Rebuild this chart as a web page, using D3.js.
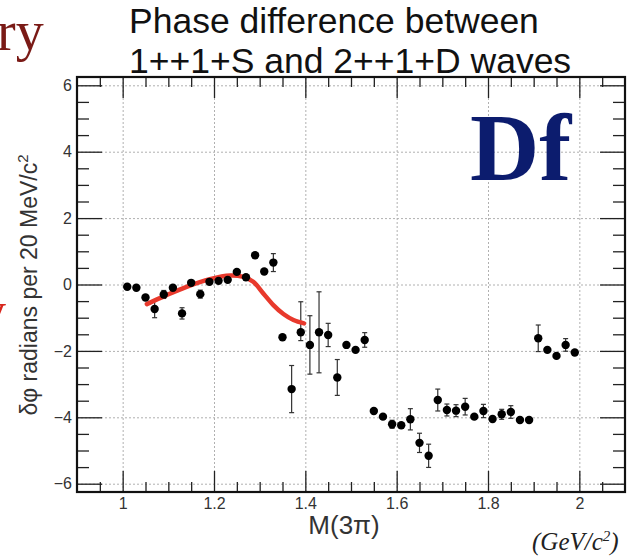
<!DOCTYPE html>
<html>
 <head>
  <meta charset="UTF-8">
  <title>Phase difference</title>
  <style>
    body { margin: 0; background: #fff; }
    text { font-family: "Liberation Sans", Arial, sans-serif; }
  </style>
 </head>
 <body>
<div id="viz-wrapper"></div>
 <script src="https://cdn.jsdelivr.net/npm/d3@7"></script>
 <script type="text/javascript">
    // mass bins (GeV/c^2) and measured phase difference (rad)
    var mass = [1.01, 1.03, 1.05, 1.07, 1.09, 1.11, 1.13, 1.15, 1.17, 1.19,
                1.21, 1.23, 1.25, 1.27, 1.29, 1.31, 1.33, 1.35, 1.37, 1.39,
                1.41, 1.43, 1.45, 1.47, 1.49, 1.51, 1.53, 1.55, 1.57, 1.59,
                1.61, 1.63, 1.65, 1.67, 1.69, 1.71, 1.73, 1.75, 1.77, 1.79,
                1.81, 1.83, 1.85, 1.87, 1.89, 1.91, 1.93, 1.95, 1.97, 1.99];
    var phase = [-0.07, -0.10, -0.39, -0.74, -0.30, -0.10, -0.87, 0.05, -0.29, 0.08,
                 0.11, 0.14, 0.38, 0.22, 0.88, 0.39, 0.66, -1.59, -3.15, -1.44,
                 -1.82, -1.44, -1.52, -2.80, -1.82, -1.97, -1.67, -3.81, -3.98, -4.21,
                 -4.24, -4.06, -4.77, -5.16, -3.48, -3.78, -3.80, -3.68, -3.98, -3.81,
                 -4.05, -3.91, -3.84, -4.08, -4.08, -1.62, -1.97, -2.15, -1.82, -2.05];
    var errUp = [0.05, 0.05, 0.08, 0.26, 0.12, 0.05, 0.17, 0.05, 0.12, 0.05,
                 0.05, 0.05, 0.05, 0.05, 0.05, 0.05, 0.27, 0.05, 0.71, 0.92,
                 0.88, 1.22, 0.35, 0.54, 0.10, 0.08, 0.22, 0.05, 0.05, 0.12,
                 0.08, 0.32, 0.29, 0.35, 0.33, 0.18, 0.18, 0.25, 0.08, 0.20,
                 0.08, 0.15, 0.19, 0.05, 0.05, 0.40, 0.08, 0.10, 0.19, 0.08];
    var errDown = [0.05, 0.05, 0.08, 0.26, 0.12, 0.05, 0.17, 0.05, 0.12, 0.05,
                   0.05, 0.05, 0.05, 0.05, 0.05, 0.05, 0.27, 0.05, 0.71, 0.25,
                   0.88, 1.22, 0.35, 0.54, 0.10, 0.08, 0.22, 0.05, 0.05, 0.12,
                   0.08, 0.32, 0.29, 0.35, 0.33, 0.18, 0.18, 0.25, 0.08, 0.20,
                   0.08, 0.15, 0.19, 0.05, 0.05, 0.40, 0.08, 0.10, 0.19, 0.08];

    // fit curve (red)
    var fitMass  = [1.053, 1.096, 1.14, 1.191, 1.235, 1.264, 1.286, 1.308, 1.33, 1.352, 1.374, 1.397];
    var fitPhase = [-0.59, -0.32, -0.07, 0.16, 0.27, 0.23, 0.08, -0.27, -0.62, -0.89, -1.07, -1.17];

    // ticks
    var xMajor = [1.0, 1.2, 1.4, 1.6, 1.8, 2.0];
    var xLabels = ["1", "1.2", "1.4", "1.6", "1.8", "2"];
    var xMinor = [0.95, 1.05, 1.1, 1.15, 1.25, 1.3, 1.35, 1.45, 1.5, 1.55, 1.65, 1.7, 1.75,
                  1.85, 1.9, 1.95, 2.05];
    var yMajor = [-6, -4, -2, 0, 2, 4, 6];
    var yMinor = [-5.5, -5, -4.5, -3.5, -3, -2.5, -1.5, -1, -0.5, 0.5, 1, 1.5,
                  2.5, 3, 3.5, 4.5, 5, 5.5];

    var width = 633, height = 559;
    var pLeft = 77, pRight = 625, pTop = 77, pBottom = 492;

    var viz = d3.select("#viz-wrapper")
                .append("svg")
                .attr("width", width)
                .attr("height", height);

    viz.append("rect").attr("width", width).attr("height", height).attr("fill", "#fff");

    var x = d3.scaleLinear().domain([0.9, 2.1]).range([pLeft, pRight]);
    var y = d3.scaleLinear().domain([-6.25, 6.25]).range([pBottom, pTop]);

    //grid
    var gx = viz.append("g").attr("transform", "translate(0," + pBottom + ")")
                .call(d3.axisBottom(x).tickValues(xMajor).tickSize(-(pBottom - pTop)).tickFormat(""));
    var gy = viz.append("g").attr("transform", "translate(" + pLeft + ",0)")
                .call(d3.axisLeft(y).tickValues(yMajor).tickSize(-(pRight - pLeft)).tickFormat(""));
    [gx, gy].forEach(function(g) {
        g.select(".domain").remove();
        g.selectAll("line").attr("stroke", "#b0b0b0").attr("stroke-dasharray", "2,2");
    });

    // axes, ticks pointing inside the frame
    function styleAxis(g) {
        g.select(".domain").remove();
        g.attr("font-size", 16);
        g.selectAll("line").attr("stroke", "#222").attr("stroke-width", 1.3);
        g.selectAll("text").attr("fill", "#333");
    }
    var fmt = function(d) { return xLabels[xMajor.indexOf(d)]; };

    viz.append("g").attr("transform", "translate(0," + pBottom + ")")
       .call(d3.axisBottom(x).tickValues(xMajor).tickSize(-21).tickPadding(6).tickFormat(fmt))
       .call(styleAxis);
    viz.append("g").attr("transform", "translate(0," + pBottom + ")")
       .call(d3.axisBottom(x).tickValues(xMinor).tickSize(-10).tickFormat(""))
       .call(styleAxis);
    viz.append("g").attr("transform", "translate(0," + pTop + ")")
       .call(d3.axisTop(x).tickValues(xMajor).tickSize(-21).tickFormat(""))
       .call(styleAxis);
    viz.append("g").attr("transform", "translate(0," + pTop + ")")
       .call(d3.axisTop(x).tickValues(xMinor).tickSize(-10).tickFormat(""))
       .call(styleAxis);

    viz.append("g").attr("transform", "translate(" + pLeft + ",0)")
       .call(d3.axisLeft(y).tickValues(yMajor).tickSize(-25).tickPadding(5).tickFormat(d3.format("d")))
       .call(styleAxis);
    viz.append("g").attr("transform", "translate(" + pLeft + ",0)")
       .call(d3.axisLeft(y).tickValues(yMinor).tickSize(-12).tickFormat(""))
       .call(styleAxis);
    viz.append("g").attr("transform", "translate(" + pRight + ",0)")
       .call(d3.axisRight(y).tickValues(yMajor).tickSize(-25).tickFormat(""))
       .call(styleAxis);
    viz.append("g").attr("transform", "translate(" + pRight + ",0)")
       .call(d3.axisRight(y).tickValues(yMinor).tickSize(-12).tickFormat(""))
       .call(styleAxis);

    // frame
    viz.append("rect")
       .attr("x", pLeft).attr("y", pTop)
       .attr("width", pRight - pLeft).attr("height", pBottom - pTop)
       .attr("fill", "none").attr("stroke", "#111").attr("stroke-width", 2.2);

    var pts = mass.map(function(m, i) {
        return {m: m, p: phase[i], up: errUp[i], dn: errDown[i]};
    });

    // error bars
    var eb = viz.append("g").attr("stroke", "#333").attr("stroke-width", 1.2);
    eb.selectAll(".bar").data(pts).enter().append("line")
      .attr("x1", function(d) { return x(d.m); })
      .attr("x2", function(d) { return x(d.m); })
      .attr("y1", function(d) { return y(d.p + d.up); })
      .attr("y2", function(d) { return y(d.p - d.dn); });
    eb.selectAll(".capU").data(pts.filter(function(d) { return d.up > 0.1; })).enter().append("line")
      .attr("x1", function(d) { return x(d.m) - 2.5; })
      .attr("x2", function(d) { return x(d.m) + 2.5; })
      .attr("y1", function(d) { return y(d.p + d.up); })
      .attr("y2", function(d) { return y(d.p + d.up); });
    eb.selectAll(".capD").data(pts.filter(function(d) { return d.dn > 0.1; })).enter().append("line")
      .attr("x1", function(d) { return x(d.m) - 2.5; })
      .attr("x2", function(d) { return x(d.m) + 2.5; })
      .attr("y1", function(d) { return y(d.p - d.dn); })
      .attr("y2", function(d) { return y(d.p - d.dn); });

    // fit curve
    var line = d3.line()
                 .x(function(d, i) { return x(fitMass[i]); })
                 .y(function(d, i) { return y(fitPhase[i]); })
                 .curve(d3.curveCatmullRom);
    viz.append("path").datum(fitMass)
       .attr("d", line)
       .attr("fill", "none")
       .attr("stroke", "#e8392c")
       .attr("stroke-width", 4.5)
       .attr("stroke-linecap", "round");

    // points
    viz.append("g").selectAll("circle").data(pts).enter().append("circle")
       .attr("cx", function(d) { return x(d.m); })
       .attr("cy", function(d) { return y(d.p); })
       .attr("r", 4.2)
       .attr("fill", "#000");

    // titles
    viz.append("text").attr("x", 129).attr("y", 33)
       .style("font-size", "35.5px").attr("fill", "#111").text("Phase difference between");
    viz.append("text").attr("x", 129).attr("y", 73)
       .style("font-size", "35.5px").attr("fill", "#111").text("1++1+S and 2++1+D waves");

    viz.append("text").attr("x", 344).attr("y", 534)
       .attr("text-anchor", "middle").style("font-size", "26px").attr("fill", "#333")
       .text("M(3\u03c0)");

    var yl = viz.append("text")
       .attr("transform", "translate(37,285) rotate(-90)")
       .attr("text-anchor", "middle").style("font-size", "23px").attr("fill", "#333");
    yl.append("tspan").text("\u03b4\u03c6 radians per 20 MeV/c");
    yl.append("tspan").attr("dy", -9).style("font-size", "15px").text("2");

    // slide leftovers
    viz.append("text").attr("x", 470).attr("y", 180)
       .style("font-family", "'Liberation Serif', 'Times New Roman', serif")
       .style("font-weight", "bold").style("font-size", "96px")
       .attr("fill", "#0c1c6e").text("Df");

    viz.append("text").attr("x", -3).attr("y", 50)
       .style("font-family", "'Liberation Serif', 'Times New Roman', serif")
       .style("font-size", "56px").attr("fill", "#7a1a16").text("ry");

    viz.append("text").attr("x", -20).attr("y", 328)
       .style("font-family", "'Liberation Serif', 'Times New Roman', serif")
       .style("font-size", "52px").attr("fill", "#d8261c").text("y");

    var gu = viz.append("text").attr("x", 532).attr("y", 550)
       .style("font-family", "'Liberation Serif', 'Times New Roman', serif")
       .style("font-style", "italic").style("font-size", "25px").attr("fill", "#222");
    gu.append("tspan").text("(GeV/c");
    gu.append("tspan").attr("dy", -9).style("font-size", "15px").text("2");
    gu.append("tspan").attr("dy", 9).text(")");
 </script>
 </body>
</html>
